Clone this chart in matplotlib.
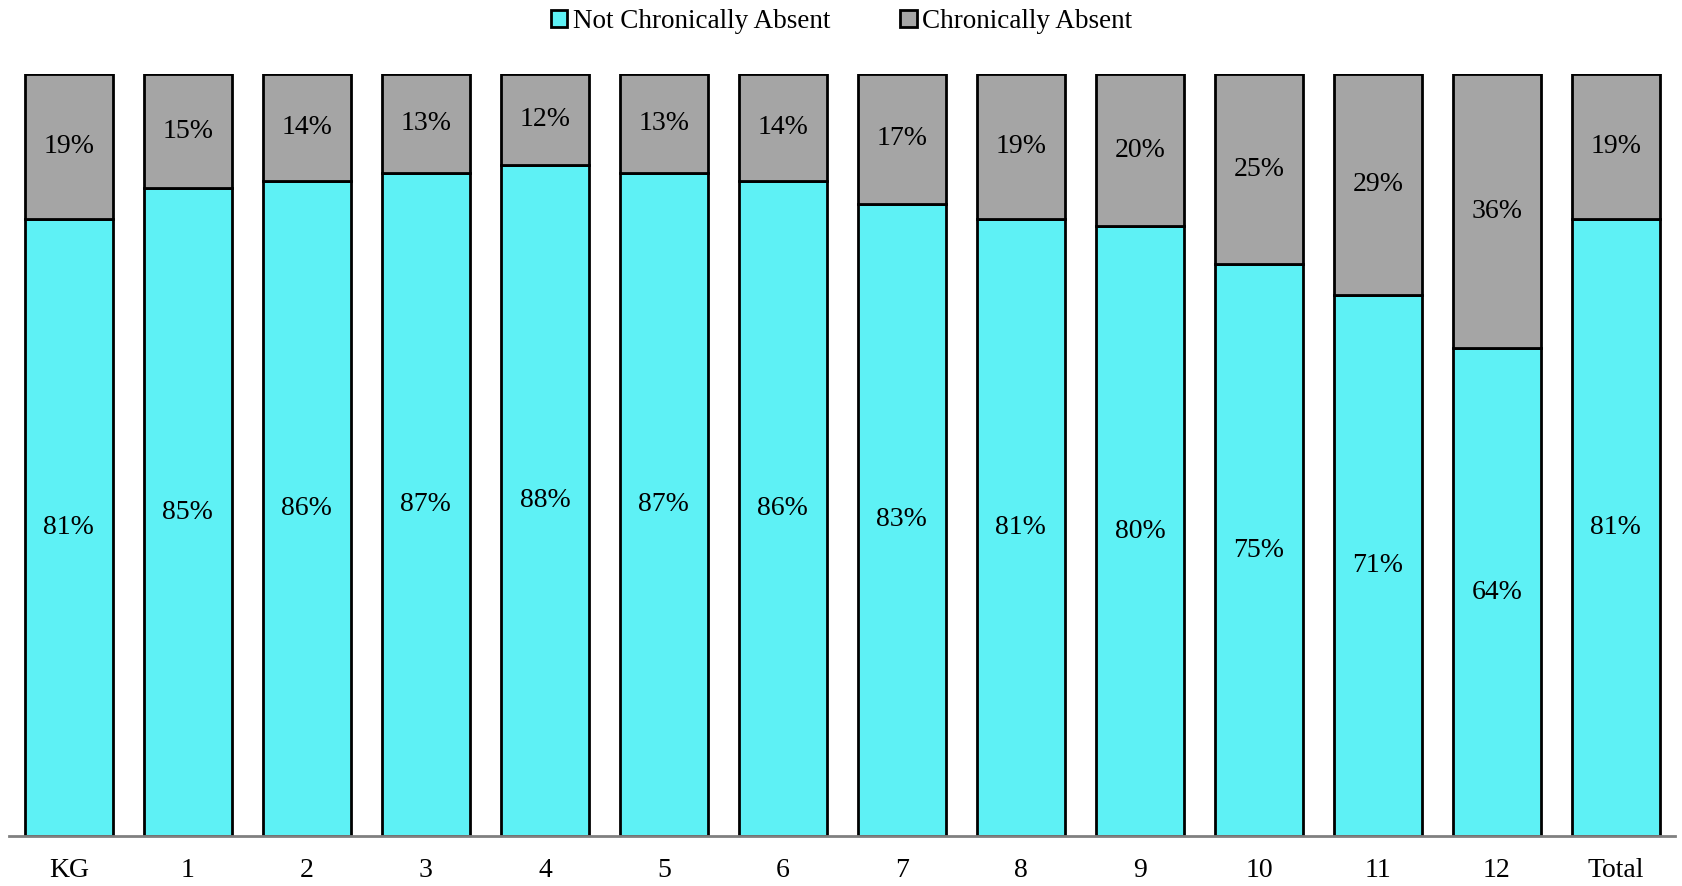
import matplotlib.pyplot as plt
import numpy as np

grades = ['KG', '1', '2', '3', '4', '5', '6', '7', '8', '9', '10', '11', '12', 'Total']
not_absent = [81, 85, 86, 87, 88, 87, 86, 83, 81, 80, 75, 71, 64, 81]
absent = [19, 15, 14, 13, 12, 13, 14, 17, 19, 20, 25, 29, 36, 19]

plt.rcParams['font.family'] = ['Liberation Serif', 'DejaVu Serif']

fig = plt.figure(figsize=(16.83, 8.86), dpi=100)
ax = fig.add_axes([0.0056, 0.0564, 0.9899, 0.8601])

x = np.arange(len(grades))
w = 0.74
b1 = ax.bar(x, not_absent, w, color='#5EF1F5', edgecolor='black', linewidth=2,
            label='Not Chronically Absent')
b2 = ax.bar(x, absent, w, bottom=not_absent, color='#A5A5A5', edgecolor='black',
            linewidth=2, label='Chronically Absent')

for i in range(len(grades)):
    ax.text(x[i], not_absent[i] / 2, f'{not_absent[i]}%', ha='center', va='center', fontsize=20)
    ax.text(x[i], not_absent[i] + absent[i] / 2, f'{absent[i]}%', ha='center', va='center', fontsize=20)

ax.set_xlim(-0.5, len(grades) - 0.5)
ax.set_ylim(0, 100)
ax.set_xticks(x)
ax.set_xticklabels(grades, fontsize=20)
ax.tick_params(axis='x', length=0, pad=16)
ax.set_yticks([])
for s in ['top', 'left', 'right']:
    ax.spines[s].set_visible(False)
ax.spines['bottom'].set_color('#808080')
ax.spines['bottom'].set_linewidth(2)

fig.legend(handles=[b1, b2], loc='center', bbox_to_anchor=(0.5, 0.976), ncol=2,
           frameon=False, fontsize=19.5, handlelength=0.6, handleheight=0.6,
           handletextpad=0.2, columnspacing=2.6)

fig.savefig('out.png', dpi=100)
